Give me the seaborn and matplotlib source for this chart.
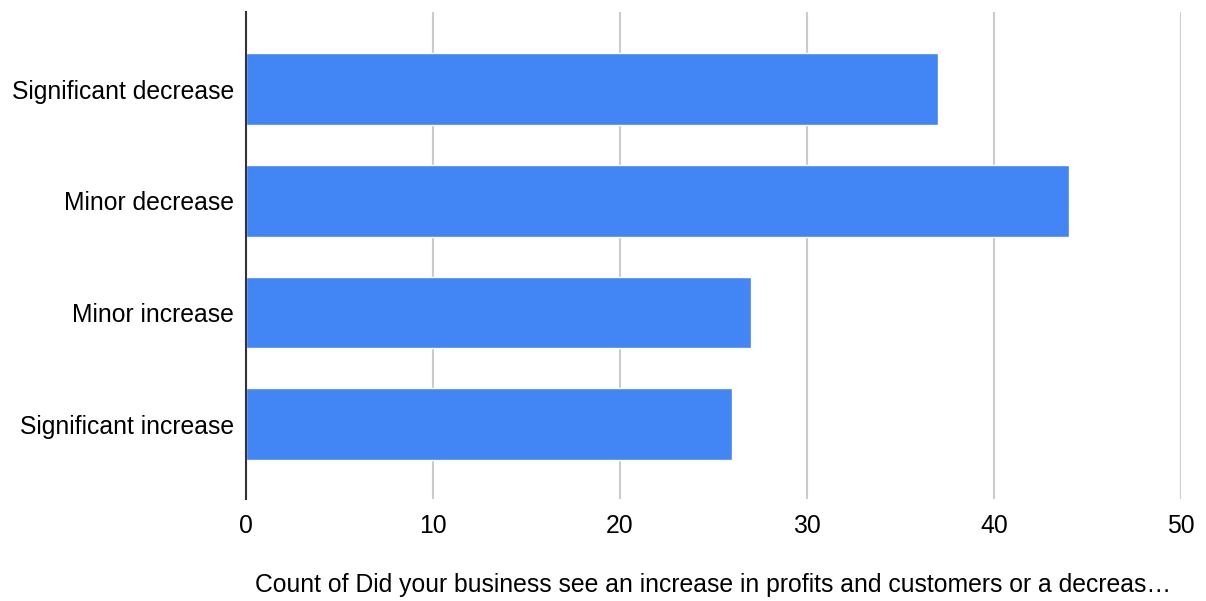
import matplotlib
matplotlib.use('Agg')
import matplotlib.pyplot as plt
import seaborn as sns
import pandas as pd

categories = ['Significant decrease', 'Minor decrease', 'Minor increase', 'Significant increase']
counts = [37, 44, 27, 26]
x_ticks = [0, 10, 20, 30, 40, 50]
x_label = 'Count of Did your business see an increase in profits and customers or a decreas\u2026'

df = pd.DataFrame({'category': categories, 'count': counts})

sns.set_style('white')
plt.rcParams['font.family'] = ['Liberation Sans', 'DejaVu Sans']
plt.rcParams['text.color'] = 'black'
plt.rcParams['axes.labelcolor'] = 'black'

fig = plt.figure(figsize=(12.06, 6.01), dpi=100)
ax = fig.add_axes([246 / 1206, 1 - 499 / 601, 935 / 1206, 487 / 601])

sns.barplot(data=df, x='count', y='category', orient='h', color='#4285F4',
            width=0.64, saturation=1, ax=ax, zorder=3)

ax.set_xlim(0, 50)
ax.set_ylim(3.67, -0.69)
ax.set_xticks(x_ticks)
ax.grid(axis='x', color='#cccccc', linewidth=1.5, zorder=0)
ax.set_axisbelow(True)

for side in ['top', 'right', 'bottom']:
    ax.spines[side].set_visible(False)
ax.spines['left'].set_color('#333333')
ax.spines['left'].set_linewidth(1.5)
ax.spines['left'].set_zorder(4)

ax.tick_params(axis='both', length=0, labelsize=17.8, colors='black')
ax.tick_params(axis='y', pad=8.5)
ax.tick_params(axis='x', pad=11)
ax.set_ylabel('')
ax.set_xlabel(x_label, fontsize=17.8, labelpad=25)

fig.savefig('out.png', dpi=100)
